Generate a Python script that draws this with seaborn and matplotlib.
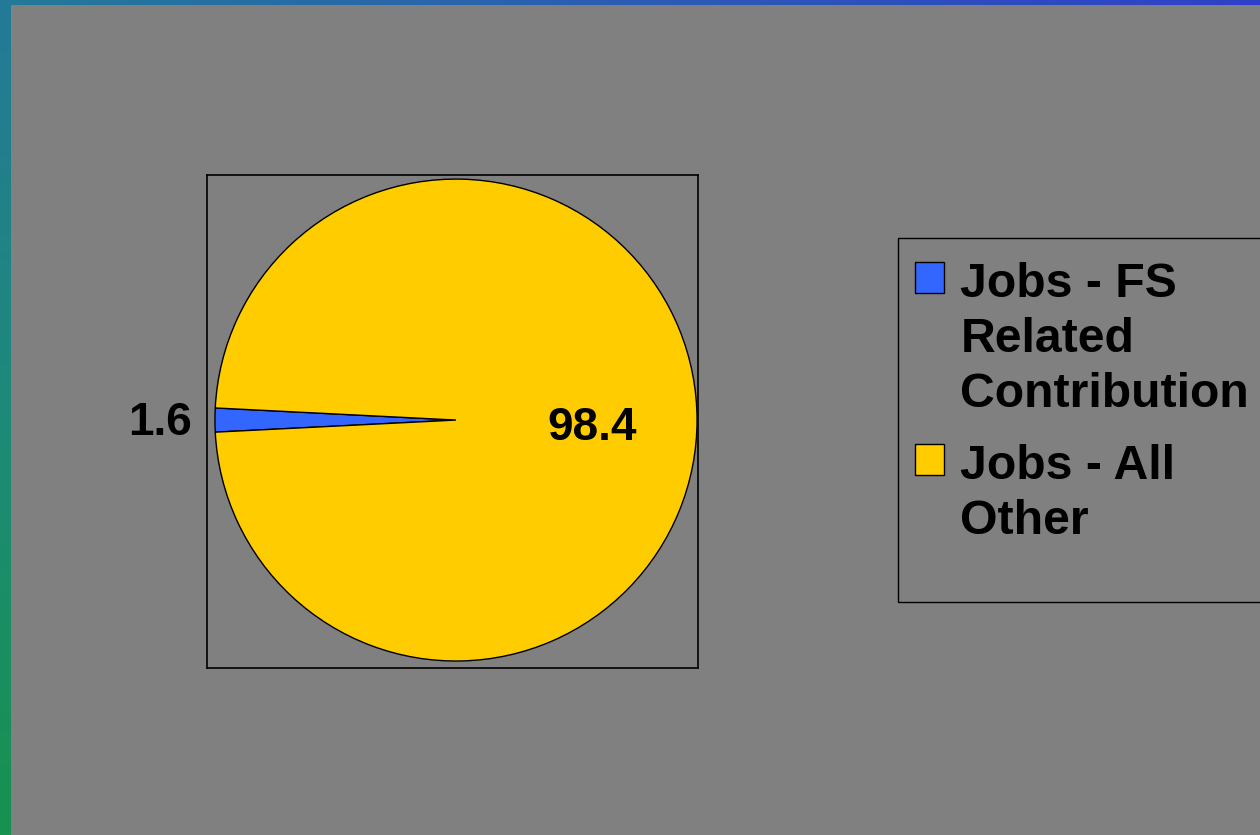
import matplotlib
matplotlib.use("Agg")
import matplotlib.pyplot as plt
import seaborn as sns
import numpy as np
from matplotlib.colors import LinearSegmentedColormap
from matplotlib.patches import Rectangle

# Data
labels = ["Jobs - FS\nRelated\nContribution", "Jobs - All\nOther"]
values = [1.6, 98.4]
value_text = ["1.6", "98.4"]
colors = ["#3366FF", "#FFCC00"]

sns.set_theme(style="white")
plt.rcParams['font.family'] = ['Liberation Sans', 'DejaVu Sans']
plt.rcParams['font.weight'] = 'bold'

bg = "#808080"
fig = plt.figure(figsize=(12.6, 8.35), dpi=100, facecolor=bg)

# decorative gradient strips at left and top edge
left_cmap = LinearSegmentedColormap.from_list("left", ["#237a98", "#1e8a78", "#17924f"])
top_cmap = LinearSegmentedColormap.from_list("top", ["#237a98", "#2c5cb4", "#2f40c8"])
ax_l = fig.add_axes([0, 0, 11 / 1260, 1])
ax_l.imshow(np.linspace(0, 1, 256).reshape(-1, 1), cmap=left_cmap, aspect="auto")
ax_l.axis("off")
ax_t = fig.add_axes([0, 1 - 5 / 835, 1, 5 / 835])
ax_t.imshow(np.linspace(0, 1, 256).reshape(1, -1), cmap=top_cmap, aspect="auto")
ax_t.axis("off")

# pie
ax = fig.add_axes([207 / 1260, 1 - 668 / 835, 491 / 1260, 493 / 835])
start = 180 - values[0] / sum(values) * 360 / 2
wedges, _ = ax.pie(values, colors=colors, startangle=start, radius=1.0,
                   wedgeprops=dict(edgecolor="black", linewidth=1.0))
ax.set_frame_on(True)
ax.set_facecolor(bg)
ax.set_xlim(-1.033, 1.004)
ax.set_ylim(-1.029, 1.017)
ax.set_aspect("auto")
for s in ax.spines.values():
    s.set_visible(True)
    s.set_color("black")
    s.set_linewidth(1.2)

ax.text(-1.095, -0.062, value_text[0], ha="right", va="baseline", fontsize=33, fontweight="bold", color="black")
ax.text(0.564, -0.083, value_text[1], ha="center", va="baseline", fontsize=33, fontweight="bold", color="black")

# legend frame and legend
fig.patches.append(Rectangle((898 / 1260, 1 - 602 / 835), 0.4, 364 / 835,
                             transform=fig.transFigure, facecolor="none",
                             edgecolor="black", linewidth=1.0))
leg = fig.legend(wedges, labels, loc="upper left",
                 bbox_to_anchor=(915 / 1260, 1 - 262 / 835),
                 frameon=False, prop=dict(weight="bold", size=34.7),
                 handlelength=0.6, handleheight=0.6, handletextpad=0.34,
                 labelspacing=0.57, borderpad=0, borderaxespad=0)
for t in leg.get_texts():
    t.set_color("black")
    t.set_linespacing(1.28)
# put the swatch next to the first line of each label
for col in leg._legend_handle_box.get_children():
    for row in col.get_children():
        row.align = "top"

fig.savefig("out.png", dpi=100, facecolor=bg)
